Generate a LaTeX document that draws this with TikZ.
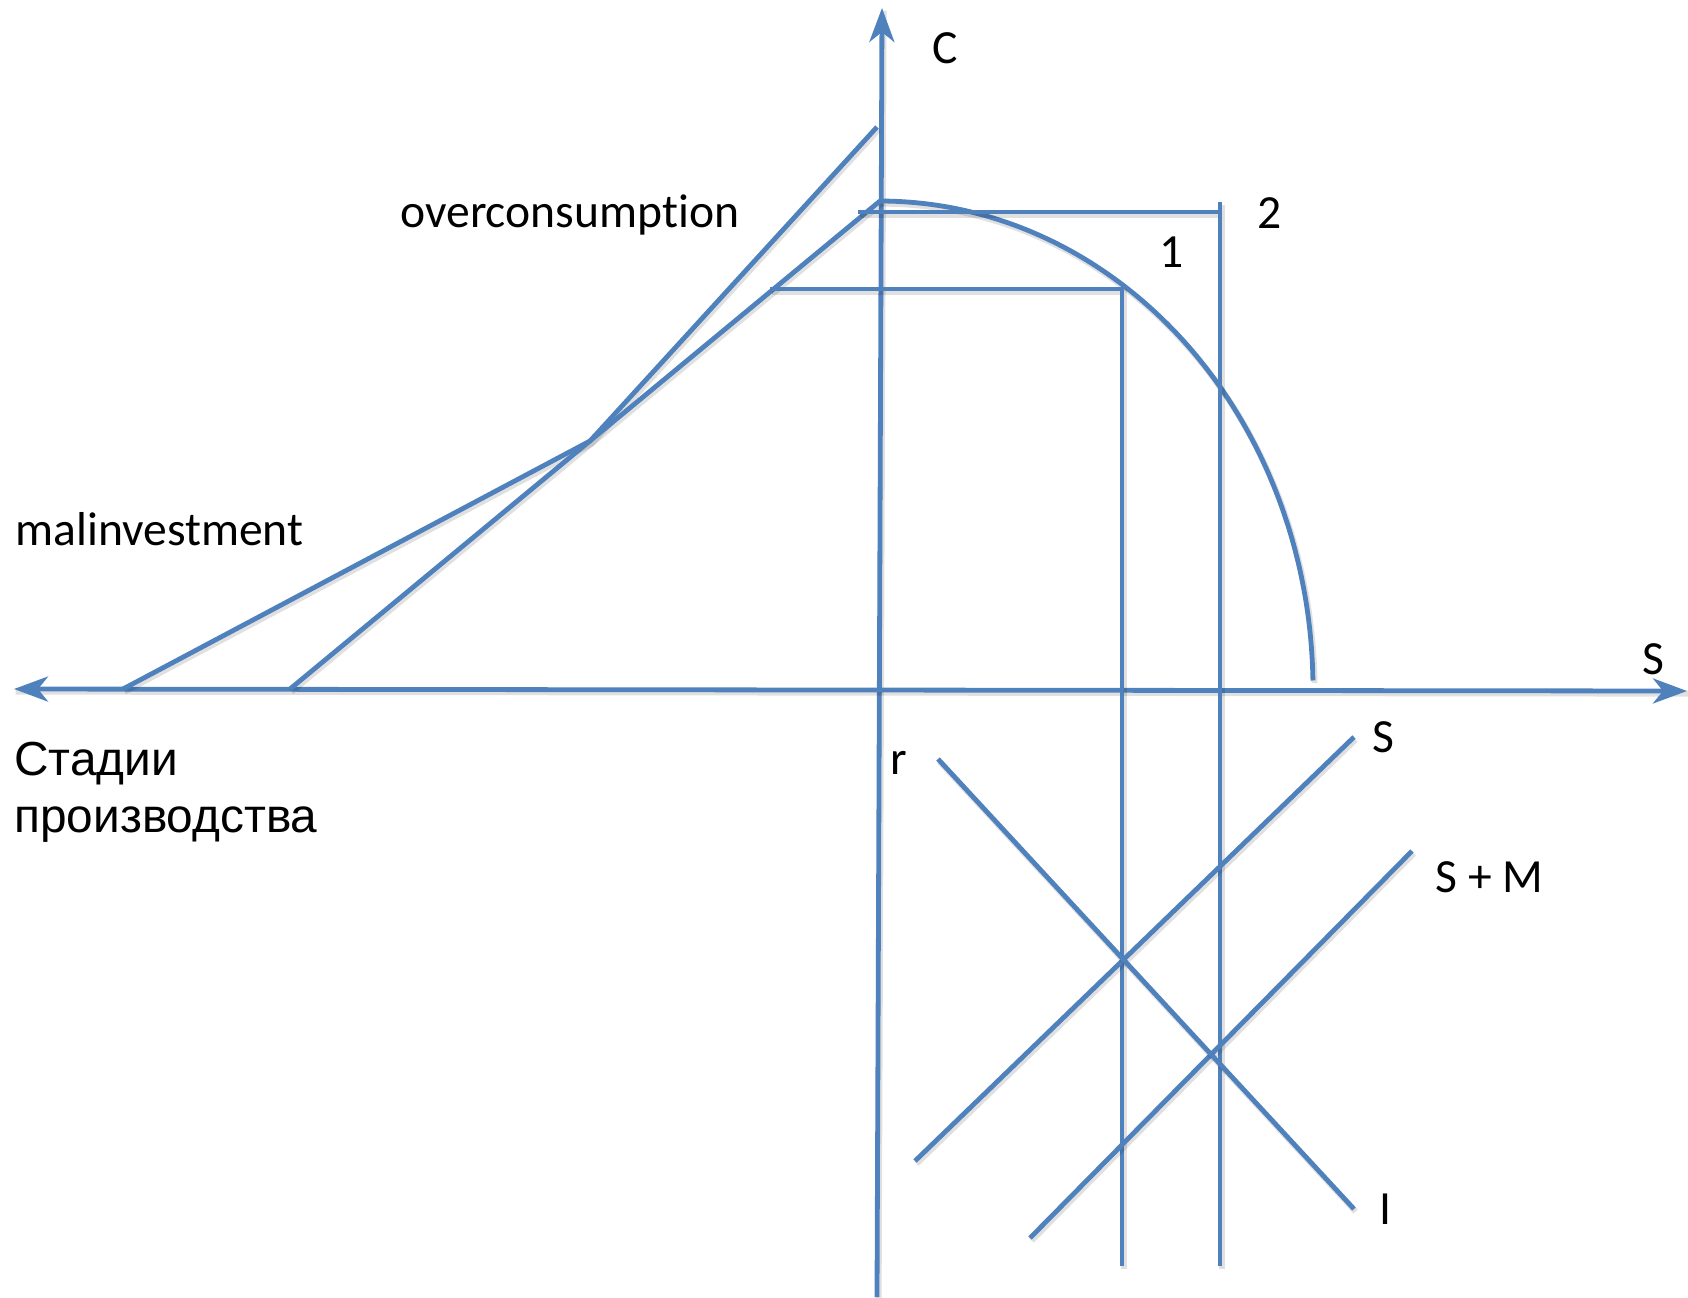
\documentclass[tikz,border=0pt]{standalone}
\usepackage{fontspec}
\setmainfont{Carlito}[Ligatures={NoCommon}]
\newfontfamily\arialfont{Liberation Sans}
\usetikzlibrary{arrows.meta}
\definecolor{lineblue}{RGB}{79,129,189}
\begin{document}
\begin{tikzpicture}[x=0.5pt,y=-0.5pt,
  ln/.style={draw=lineblue, line width=2.4pt,
    preaction={-, draw=black, opacity=0.12, line width=3pt,
      transform canvas={shift={(0.8pt,-1.3pt)}}}},
  axtip/.style={-{Stealth[length=17pt,width=12.5pt,inset=5pt]}},
  bothtip/.style={{Stealth[length=17pt,width=12.5pt,inset=5pt]}-{Stealth[length=17pt,width=12.5pt,inset=5pt]}},
  lbl/.style={inner sep=0pt, text=black, font=\fontsize{23.8pt}{28pt}\selectfont},
  rlbl/.style={inner sep=0pt, text=black, font=\arialfont\fontsize{23.9pt}{28pt}\selectfont},
]
\useasboundingbox (0,0) rectangle (1688,1297);

% coordinates
\coordinate (ybot) at (877,1297);
\coordinate (ytop) at (882,8);
\coordinate (xleft) at (14,689);
\coordinate (xright) at (1687,691);
\coordinate (mA) at (123,689);
\coordinate (kink) at (590,441);
\coordinate (mtop) at (877,127);
\coordinate (oB) at (290,689);
\coordinate (peak) at (880,201);
\coordinate (h1l) at (770,289);
\coordinate (p1) at (1122,289);
\coordinate (v1b) at (1122,1266);
\coordinate (h2l) at (858,212);
\coordinate (h2r) at (1220,212);
\coordinate (v2t) at (1220,202);
\coordinate (v2b) at (1220,1266);
\coordinate (Sa) at (915,1161);
\coordinate (Sb) at (1354,737);
\coordinate (SMa) at (1030,1238);
\coordinate (SMb) at (1412,851);
\coordinate (Ia) at (938,759);
\coordinate (Ib) at (1354,1209);

% axes
\draw[ln, axtip] (ybot) -- (ytop);
\draw[ln, bothtip] (xleft) -- (xright);

% production-stage lines
\draw[ln] (mA) -- (kink) -- (mtop);
\draw[ln] (oB) -- (peak);

% frontier curve
\draw[ln] plot[domain=90:1, samples=80, smooth] ({880+433*cos(\x)}, {689-488*sin(\x)});

% guide lines
\draw[ln] (h1l) -- (p1) -- (v1b);
\draw[ln] (h2l) -- (h2r);
\draw[ln] (v2t) -- (v2b);

% loanable funds market
\draw[ln] (Sa) -- (Sb);
\draw[ln] (SMa) -- (SMb);
\draw[ln] (Ia) -- (Ib);

% labels
\node[lbl, anchor=base] (lC) at (945,63) {C};
\node[lbl, anchor=base] (l2) at (1270,228) {2};
\node[lbl, anchor=base] (l1) at (1172,267) {1};
\node[lbl, anchor=base west] (lover) at (400,227) {overconsumption};
\node[lbl, anchor=base west] (lmal) at (15,545) {malinvestment};
\node[rlbl, anchor=base west] (lst1) at (14,775) {Стадии};
\node[rlbl, anchor=base west] (lst2) at (14,832) {производства};
\node[lbl, anchor=base] (lSx) at (1653,674) {S};
\node[lbl, anchor=base] (lS) at (1383,752) {S};
\node[lbl, anchor=base west] (lSM) at (1435,892) {S + M};
\node[lbl, anchor=base] (lI) at (1385,1224) {I};
\node[lbl, anchor=base] (lr) at (899,774) {r};
\end{tikzpicture}
\end{document}
